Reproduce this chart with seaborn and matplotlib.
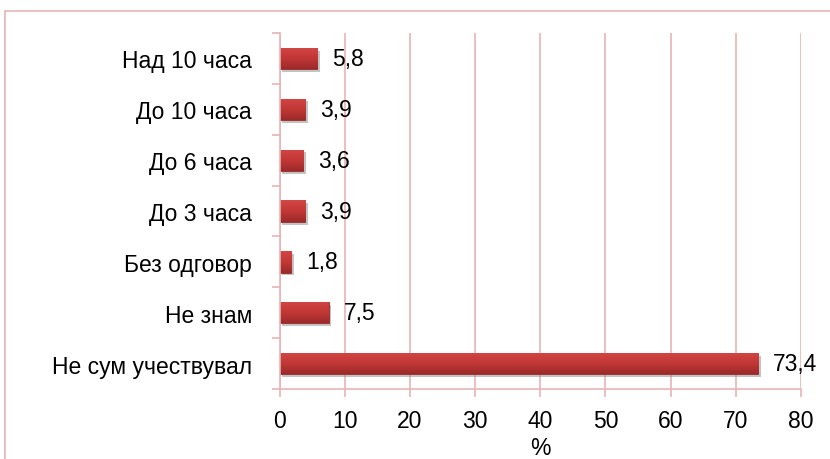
import numpy as np
import pandas as pd
import seaborn as sns
import matplotlib.pyplot as plt
import matplotlib.patheffects as pe
from matplotlib.patches import Rectangle
from matplotlib.colors import LinearSegmentedColormap

categories = ["Над 10 часа", "До 10 часа", "До 6 часа", "До 3 часа",
              "Без одговор", "Не знам", "Не сум учествувал"]
values = [5.8, 3.9, 3.6, 3.9, 1.8, 7.5, 73.4]
xticks = [0, 10, 20, 30, 40, 50, 60, 70, 80]

df = pd.DataFrame({"cat": categories, "val": values})

sns.set_theme(style="white")
plt.rcParams['font.family'] = ['Liberation Sans', 'DejaVu Sans']
plt.rcParams['text.color'] = 'black'
plt.rcParams['xtick.color'] = 'black'
plt.rcParams['ytick.color'] = 'black'
plt.rcParams['axes.labelcolor'] = 'black'

fs = 16.5
pink = "#e8b4b4"
fig = plt.figure(figsize=(8.3, 4.6), dpi=100)
ax = fig.add_axes([0.337, 0.152, 0.628, 0.774])

# outer chart frame (runs off right/bottom edge)
fig.patches.append(Rectangle((0.006, -0.1), 1.2, 1.074, transform=fig.transFigure,
                             fill=False, edgecolor=pink, linewidth=1.2))

sns.barplot(data=df, x="val", y="cat", color="#c63a3a", width=0.42,
            saturation=1, edgecolor="#9a2a2a", linewidth=0.6, ax=ax)

grad = LinearSegmentedColormap.from_list("bar", ["#d24644", "#c23836", "#9c2a2a"])
for p in ax.patches:
    p.set_path_effects([pe.SimplePatchShadow(offset=(2, -2), shadow_rgbFace="#888888", alpha=0.5),
                        pe.Normal()])
    x0, y0 = p.get_x(), p.get_y()
    w, h = p.get_width(), p.get_height()
    im = ax.imshow(np.linspace(0, 1, 50).reshape(-1, 1), cmap=grad, aspect="auto",
                   extent=(x0, x0 + w, y0 + h, y0), origin="upper", zorder=p.get_zorder() + 0.1)
    im.set_clip_path(p)

for i, v in enumerate(values):
    ax.text(v + 2.3, i, f"{v:.1f}".replace(".", ","), va="center", ha="left",
            fontsize=fs, color="black")

ax.set_xlim(0, 80)
ax.set_ylim(6.5, -0.5)
ax.set_xticks(xticks)
ax.set_xticklabels([str(t) for t in xticks])
ax.xaxis.grid(True, color=pink, linewidth=1.2)
ax.set_axisbelow(True)
ax.set_xlabel("%", fontsize=fs, labelpad=3)
ax.set_ylabel("")

ax.set_yticks(np.arange(-0.5, 7, 1), minor=True)
ax.tick_params(axis="y", which="major", length=0, pad=20, labelsize=fs)
ax.tick_params(axis="y", which="minor", length=6, color=pink, width=1.2, left=True)
ax.tick_params(axis="x", length=6, color=pink, width=1.2, bottom=True, pad=8, labelsize=fs)

for s in ["top", "right"]:
    ax.spines[s].set_visible(False)
for s in ["left", "bottom"]:
    ax.spines[s].set_color(pink)
    ax.spines[s].set_linewidth(1.2)

fig.savefig("out.png", dpi=100)
